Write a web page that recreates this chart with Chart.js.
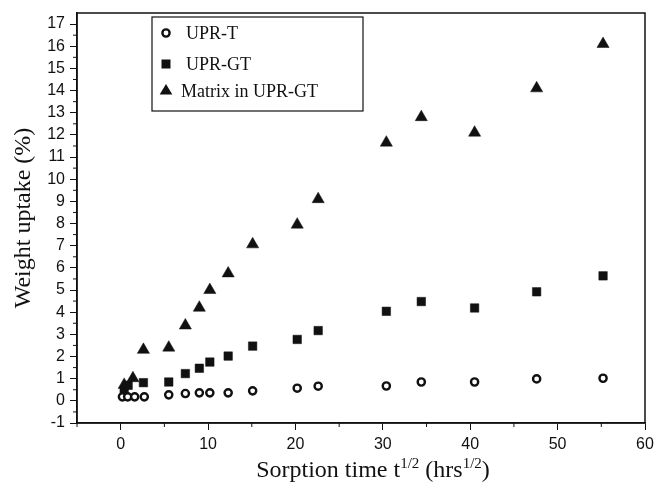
<!DOCTYPE html>
<html>
<head>
<meta charset="utf-8">
<script src="https://cdn.jsdelivr.net/npm/chart.js@4/dist/chart.umd.min.js"></script>
<style>
  html, body { margin: 0; padding: 0; background: #fff; }
  #wrap { width: 654px; height: 482px; }
</style>
</head>
<body>
<div id="wrap"><canvas id="chart"></canvas></div>
<script>
/* DATA */
const uprTX = [0.2, 0.8, 1.6, 2.7, 5.5, 7.4, 9.0, 10.2, 12.3, 15.1, 20.2, 22.6, 30.4, 34.4, 40.5, 47.6, 55.2];
const uprTY = [0.18, 0.18, 0.18, 0.18, 0.27, 0.33, 0.36, 0.36, 0.36, 0.45, 0.57, 0.66, 0.67, 0.85, 0.85, 0.99, 1.02];

const uprGTX = [0.4, 0.85, 2.6, 5.5, 7.4, 9.0, 10.2, 12.3, 15.1, 20.2, 22.6, 30.4, 34.4, 40.5, 47.6, 55.2];
const uprGTY = [0.45, 0.7, 0.82, 0.85, 1.23, 1.47, 1.75, 2.02, 2.47, 2.77, 3.17, 4.04, 4.48, 4.19, 4.92, 5.64];

const matrixX = [0.4, 1.4, 2.6, 5.5, 7.4, 9.0, 10.2, 12.3, 15.1, 20.2, 22.6, 30.4, 34.4, 40.5, 47.6, 55.2];
const matrixY = [0.72, 1.02, 2.3, 2.4, 3.4, 4.2, 5.0, 5.75, 7.06, 7.95, 9.1, 11.65, 12.8, 12.1, 14.1, 16.1];

const seriesNames = ["UPR-T", "UPR-GT", "Matrix in UPR-GT"];
const xTicks = [0, 10, 20, 30, 40, 50, 60];
const yTicks = [-1, 0, 1, 2, 3, 4, 5, 6, 7, 8, 9, 10, 11, 12, 13, 14, 15, 16, 17];

const INK = "#111";
const serif = "'Liberation Serif', 'DejaVu Serif', serif";
const sans = "'Liberation Sans', Arial, sans-serif";

const pts = (xs, ys) => xs.map((x, i) => ({ x: x, y: ys[i] }));

/* frame, minor ticks, titles, legend */
const extras = {
  id: "extras",
  afterDraw(chart) {
    const ctx = chart.ctx;
    const a = chart.chartArea;
    const xs = chart.scales.x, ys = chart.scales.y;
    ctx.save();
    ctx.strokeStyle = INK;
    ctx.lineWidth = 1.5;
    ctx.strokeRect(a.left, a.top, a.right - a.left, a.bottom - a.top);

    // minor ticks
    ctx.lineWidth = 1;
    ctx.beginPath();
    for (let v = -0.5; v < 17.5; v += 1) {
      const py = ys.getPixelForValue(v);
      ctx.moveTo(a.left - 4, py); ctx.lineTo(a.left, py);
    }
    for (let v = -5; v <= 55; v += 10) {
      const px = xs.getPixelForValue(v);
      ctx.moveTo(px, a.bottom); ctx.lineTo(px, a.bottom + 4);
    }
    ctx.stroke();

    // axis titles
    ctx.fillStyle = INK;
    ctx.font = "24px " + serif;
    ctx.textBaseline = "alphabetic";
    ctx.save();
    ctx.translate(30, (a.top + a.bottom) / 2);
    ctx.rotate(-Math.PI / 2);
    ctx.textAlign = "center";
    ctx.fillText("Weight uptake (%)", 0, 0);
    ctx.restore();

    const parts = [
      ["Sorption time t", 24, 0], ["1/2", 15, -9], [" (hrs", 24, 0], ["1/2", 15, -9], [")", 24, 0]
    ];
    let total = 0;
    parts.forEach(p => { ctx.font = p[1] + "px " + serif; total += ctx.measureText(p[0]).width; });
    let cx = 373 - total / 2;
    ctx.textAlign = "left";
    parts.forEach(p => {
      ctx.font = p[1] + "px " + serif;
      ctx.fillText(p[0], cx, 477 + p[2]);
      cx += ctx.measureText(p[0]).width;
    });

    // legend
    ctx.lineWidth = 1.2;
    ctx.strokeRect(152, 17, 211, 94);
    ctx.font = "18px " + serif;
    ctx.textBaseline = "middle";
    const rows = [33, 64, 91];
    // circle
    ctx.beginPath();
    ctx.lineWidth = 2.4;
    ctx.arc(166, rows[0], 3.6, 0, Math.PI * 2);
    ctx.stroke();
    ctx.fillText(seriesNames[0], 186, rows[0] + 1);
    // square
    ctx.fillRect(161.5, rows[1] - 4.5, 9, 9);
    ctx.fillText(seriesNames[1], 186, rows[1] + 1);
    // triangle
    ctx.beginPath();
    ctx.moveTo(166, rows[2] - 7);
    ctx.lineTo(172.3, rows[2] + 3.5);
    ctx.lineTo(159.7, rows[2] + 3.5);
    ctx.closePath();
    ctx.fill();
    ctx.fillText(seriesNames[2], 181, rows[2] + 1);
    ctx.restore();
  }
};

new Chart(document.getElementById("chart"), {
  type: "scatter",
  data: {
    datasets: [
      {
        label: seriesNames[0],
        data: pts(uprTX, uprTY),
        pointStyle: "circle",
        pointRadius: 3.6,
        pointBorderWidth: 2.4,
        borderColor: INK,
        backgroundColor: "#fff"
      },
      {
        label: seriesNames[1],
        data: pts(uprGTX, uprGTY),
        pointStyle: "rect",
        pointRadius: 6,
        pointBorderWidth: 0.5,
        borderColor: INK,
        backgroundColor: INK
      },
      {
        label: seriesNames[2],
        data: pts(matrixX, matrixY),
        pointStyle: "triangle",
        pointRadius: 7,
        pointBorderWidth: 0.5,
        borderColor: INK,
        backgroundColor: INK
      }
    ]
  },
  options: {
    responsive: true,
    maintainAspectRatio: false,
    animation: false,
    layout: { padding: { left: 5, top: 13, right: 9, bottom: 0 } },
    plugins: { legend: { display: false }, tooltip: { enabled: false } },
    scales: {
      x: {
        type: "linear",
        min: -5,
        max: 60,
        afterBuildTicks: s => { s.ticks = xTicks.map(v => ({ value: v })); },
        afterFit: s => { s.height = 59; s.paddingLeft = 0; s.paddingRight = 0; },
        border: { display: true, color: INK, width: 1.5 },
        grid: { drawOnChartArea: false, drawTicks: true, tickLength: 7, color: INK, tickWidth: 1 },
        ticks: { color: INK, font: { family: sans, size: 16 }, padding: 5, maxRotation: 0 }
      },
      y: {
        type: "linear",
        min: -1,
        max: 17.5,
        afterBuildTicks: s => { s.ticks = yTicks.map(v => ({ value: v })); },
        afterFit: s => { s.width = 72; s.paddingTop = 0; s.paddingBottom = 0; },
        border: { display: true, color: INK, width: 1.5 },
        grid: { drawOnChartArea: false, drawTicks: true, tickLength: 7, color: INK, tickWidth: 1 },
        ticks: { color: INK, font: { family: sans, size: 16 }, padding: 5 }
      }
    }
  },
  plugins: [extras]
});
</script>
</body>
</html>
